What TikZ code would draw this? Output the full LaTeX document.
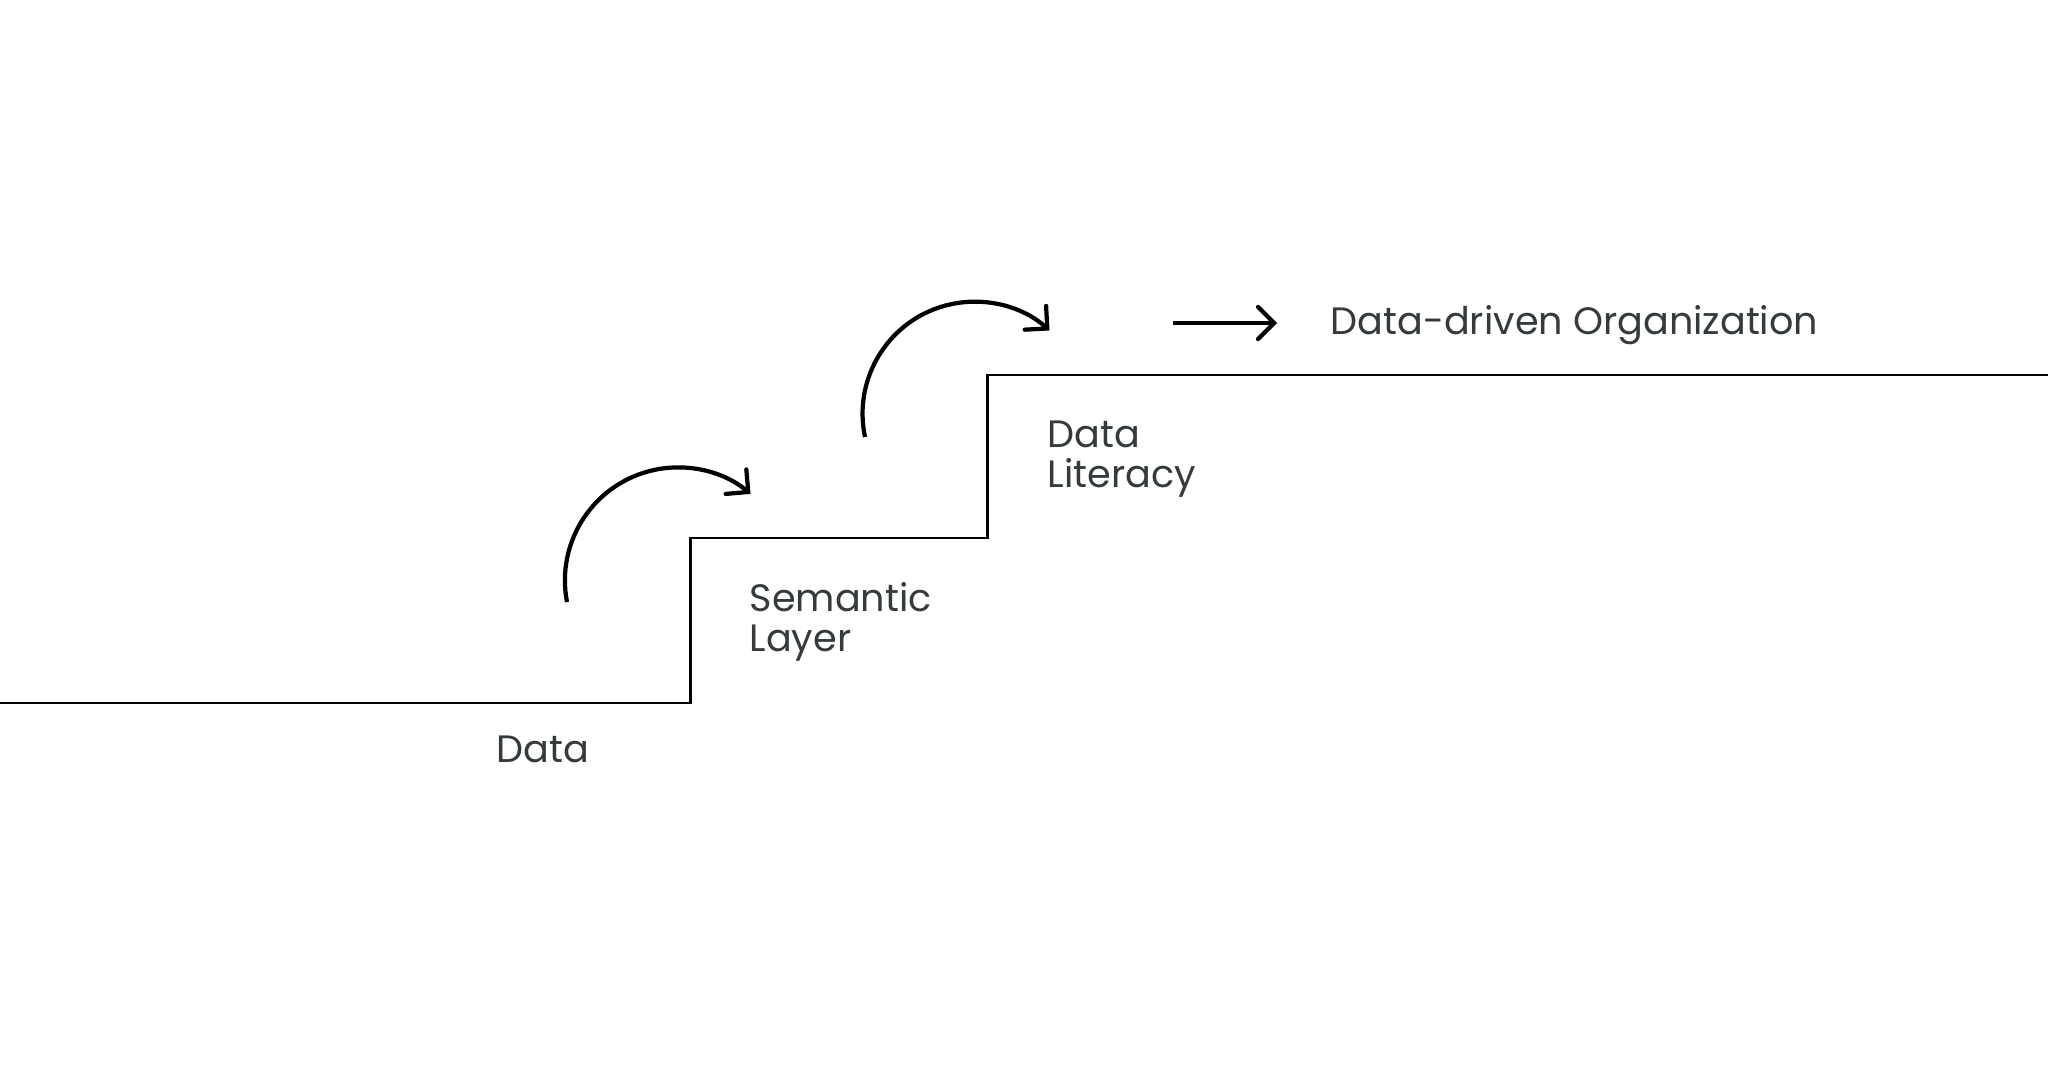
\documentclass[tikz,border=0pt]{standalone}
\usepackage{fontspec}
\setmainfont{Poppins}
\usetikzlibrary{arrows.meta,positioning}
\definecolor{labelgrey}{RGB}{52,58,61}

\begin{document}
\begin{tikzpicture}[
  x=0.01cm, y=0.01cm,
  lbl/.style={anchor=base west, inner sep=0pt, align=left,
              text=labelgrey, font=\fontsize{10.85}{11.4}\selectfont},
  stair/.style={line width=0.85pt, line join=miter},
  arr/.style={-{Straight Barb[length=1.6mm, width=3.2mm, line cap=round]},
              line width=1.2pt}
]
\useasboundingbox (0,0) rectangle (2048,1072);

% staircase
\draw[stair] (0,369) -- (690,369) -- (690,534) -- (987,534)
             -- (987,697) -- (2048,697);

% step labels (base = last line)
\node (data) [lbl] at (496,310)  {Data};
\node (sem)  [lbl] at (749,420)  {Semantic\\Layer};
\node (lit)  [lbl] at (1047,584) {Data\\Literacy};
\node (ddo)  [lbl] at (1330,737) {Data-driven Organization};

% jump arrows
\coordinate (j1) at (567,470);
\coordinate (j2) at (865,635);
\draw[arr] (j1) arc[start angle=191, end angle=50, radius=113];
\draw[arr] (j2) arc[start angle=192, end angle=48, radius=112];

% final arrow
\coordinate (f0) at (1173,749);
\coordinate (f1) at (1277,749);
\draw[arr] (f0) -- (f1);
\end{tikzpicture}
\end{document}
